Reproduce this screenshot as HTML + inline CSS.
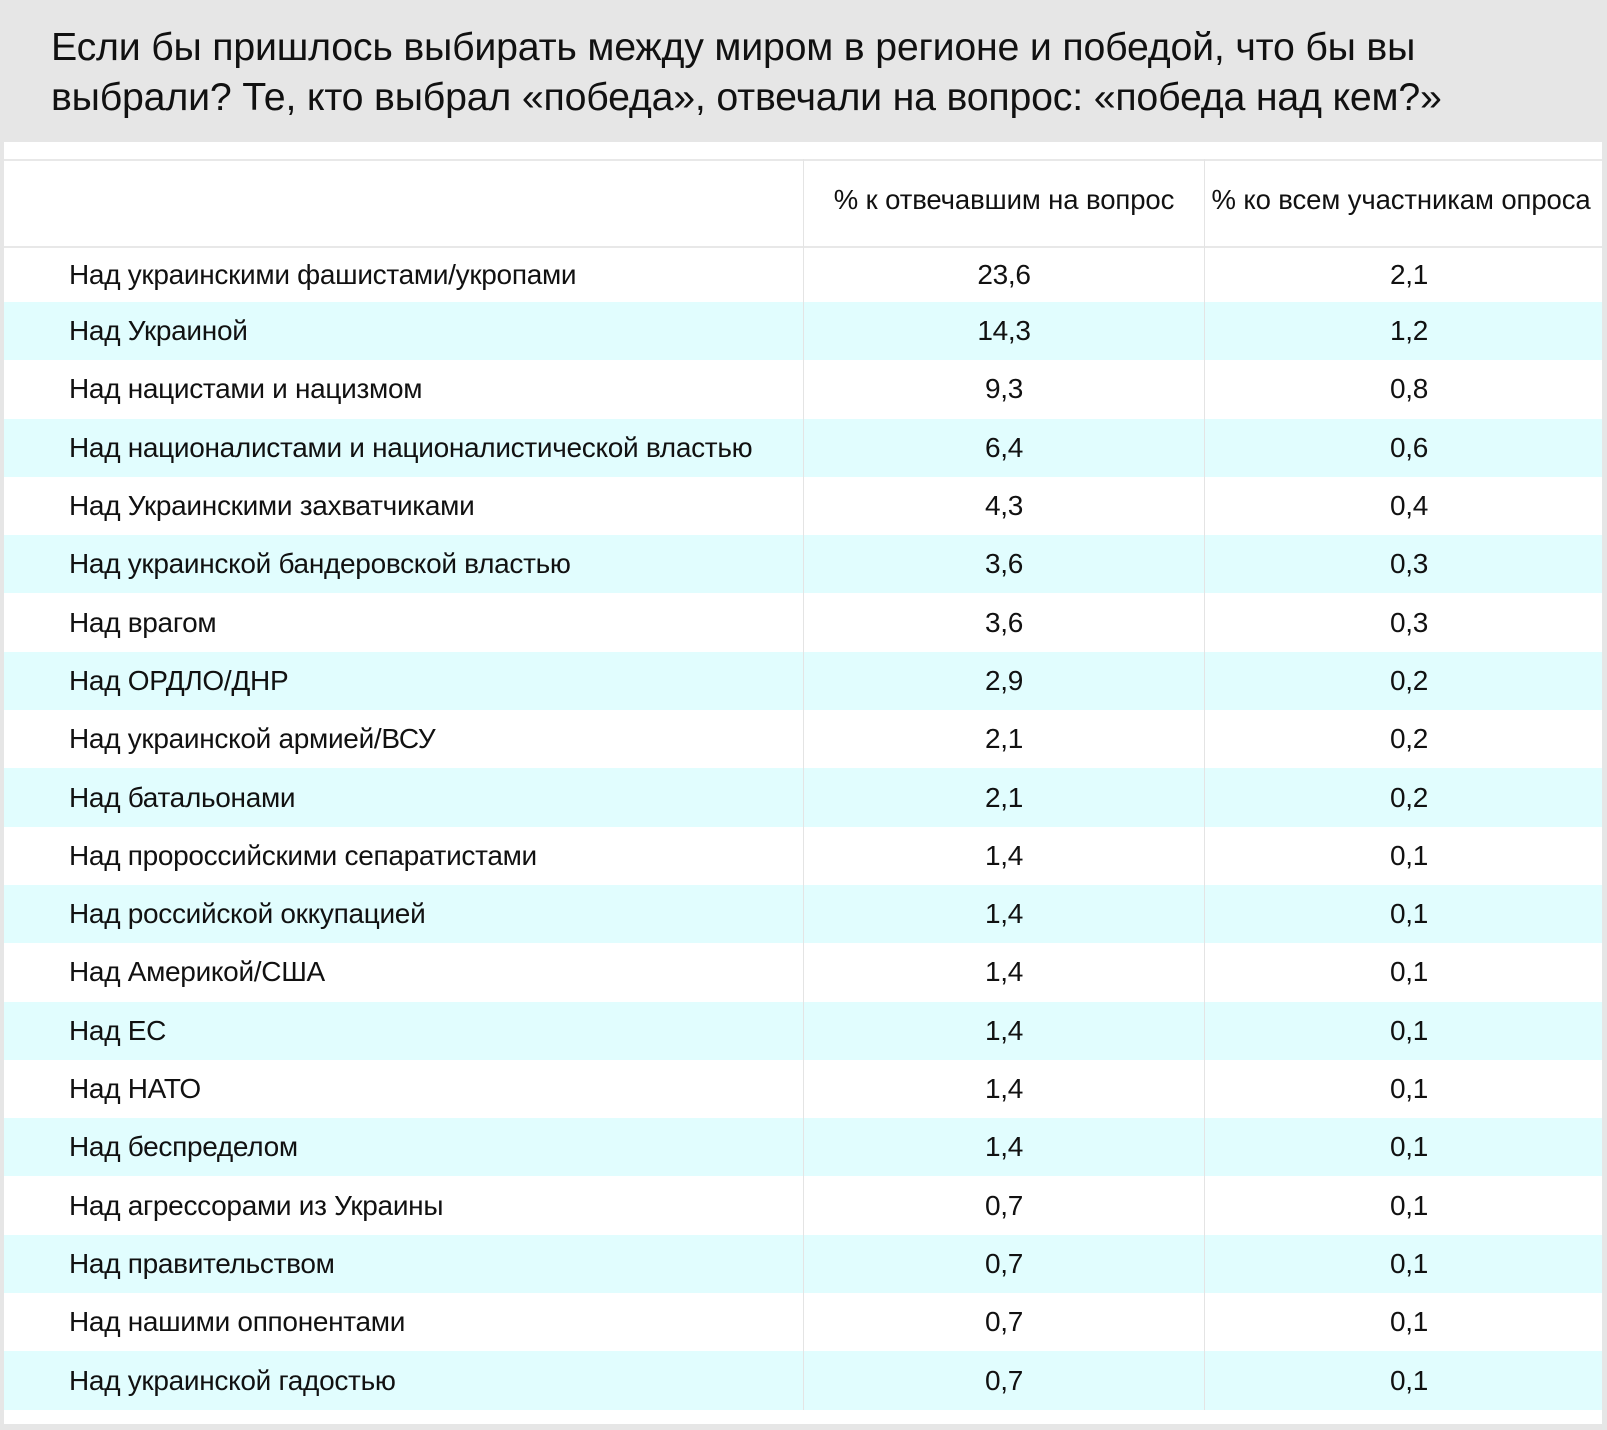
<!DOCTYPE html>
<html><head><meta charset="utf-8"><style>
body{margin:0;width:1607px;height:1430px;background:#e6e6e6;font-family:"Liberation Sans","DejaVu Sans",sans-serif;position:relative;overflow:hidden;color:#111}
#title{position:absolute;left:51px;top:22px;font-size:39.3px;line-height:50px;letter-spacing:-0.2px;width:1560px;white-space:nowrap}
#panel{position:absolute;left:4px;top:142px;width:1598px;height:1282px;background:#fff}
.row{position:absolute;left:4px;width:1598px}
.cell{position:absolute;top:0;height:100%;display:flex;align-items:center;font-size:28px;letter-spacing:-0.3px;white-space:nowrap}
.vl{position:absolute;top:159px;width:1px;height:1251px;background:#e4e4e4}
</style></head><body>
<div id="title">Если бы пришлось выбирать между миром в регионе и победой, что бы вы<br>выбрали? Те, кто выбрал «победа», отвечали на вопрос: «победа над кем?»</div>
<div id="panel"></div>
<div id="tbl"></div>
<script>
const categories=["Над украинскими фашистами/укропами","Над Украиной","Над нацистами и нацизмом","Над националистами и националистической властью","Над Украинскими захватчиками","Над украинской бандеровской властью","Над врагом","Над ОРДЛО/ДНР","Над украинской армией/ВСУ","Над батальонами","Над пророссийскими сепаратистами","Над российской оккупацией","Над Америкой/США","Над ЕС","Над НАТО","Над беспределом","Над агрессорами из Украины","Над правительством","Над нашими оппонентами","Над украинской гадостью"];
const respondents=["23,6","14,3","9,3","6,4","4,3","3,6","3,6","2,9","2,1","2,1","1,4","1,4","1,4","1,4","1,4","1,4","0,7","0,7","0,7","0,7"];
const allParticipants=["2,1","1,2","0,8","0,6","0,4","0,3","0,3","0,2","0,2","0,2","0,1","0,1","0,1","0,1","0,1","0,1","0,1","0,1","0,1","0,1"];
const headers=["","% к отвечавшим на вопрос","% ко всем участникам опроса"];
const t=document.getElementById('tbl');
function mk(top,h,bg,texts,nm,isHeader){
 const r=document.createElement('div');r.className='row';
 
 
 r.style.top=top+'px';r.style.height=h+'px';r.style.background=bg;
 const cols=isHeader?[[65,740,'flex-start'],[799,402,'center'],[1198,398,'center']]:[[65,740,'flex-start'],[799,402,'center'],[1206,398,'center']];
 texts.forEach((tx,i)=>{const c=document.createElement('div');c.className='cell';
  
  
  c.style.left=cols[i][0]+'px';c.style.width=cols[i][1]+'px';c.style.justifyContent=cols[i][2];c.textContent=tx;r.appendChild(c);});
 t.appendChild(r);return r;}
const hr=mk(159,89,'#fff',headers,'header-row',true);
hr.style.borderTop='2px solid #e8e8e8';hr.style.borderBottom='2px solid #e8e8e8';hr.style.boxSizing='border-box';
[...hr.children].forEach(c=>{c.style.fontSize='27.5px';c.style.letterSpacing='-0.1px';c.style.paddingBottom='8px';c.style.boxSizing='border-box';});
categories.forEach((c,i)=>{const top=i==0?248:302+(i-1)*58.3;const h=i==0?54:58.3;
 mk(top,h,i%2?'#e1fdfe':'#fff',[c,respondents[i],allParticipants[i]],'data-row',false);});
[803,1204].forEach(x=>{const v=document.createElement('div');v.className='vl';
 
 
 v.style.left=x+'px';document.body.appendChild(v);});
</script>
</body></html>
